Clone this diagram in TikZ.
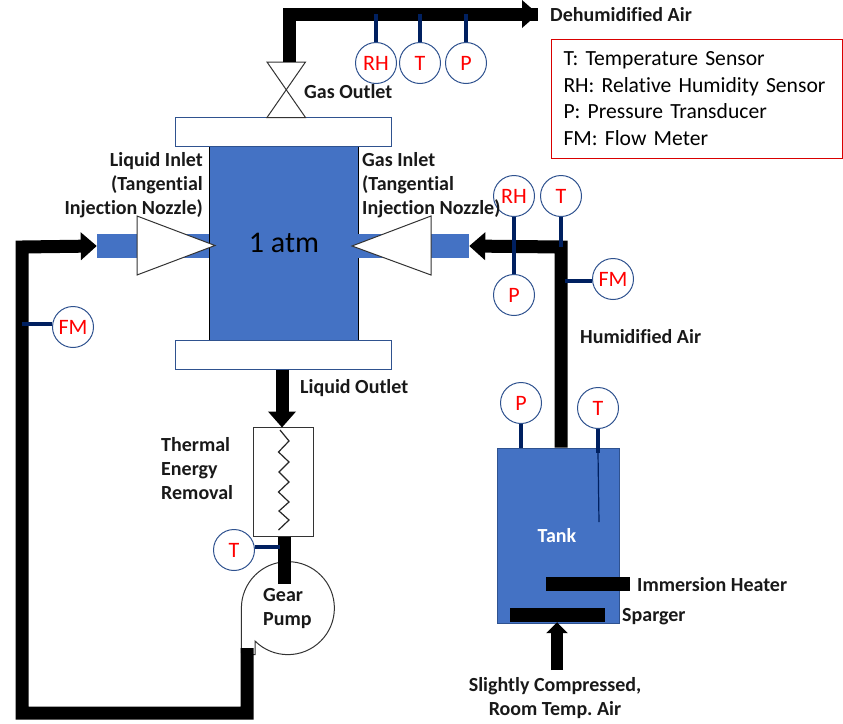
\documentclass[tikz,border=0pt]{standalone}
\usepackage{fontspec}
\setmainfont{Carlito}[Ligatures=NoCommon]
\usepackage{tikz}
\usetikzlibrary{arrows.meta,positioning}
\definecolor{vesselblue}{HTML}{4472C4}
\definecolor{edgeblue}{HTML}{2F528F}
\definecolor{stemblue}{HTML}{002060}
\frenchspacing
\tikzset{
  pipe/.style={line width=13pt},
  flow/.style={pipe,-{Triangle[length=16pt,width=27pt]}},
  stem/.style={line width=3.4pt,stemblue},
  sensor/.style={circle,draw=edgeblue,fill=white,line width=1pt,minimum size=41pt,inner sep=0pt,
    text=red,font=\fontsize{22}{22}\selectfont},
  vessel/.style={rectangle,fill=vesselblue,inner sep=0pt},
  flange/.style={rectangle,draw=edgeblue,fill=white,line width=1pt,minimum width=216pt,minimum height=29pt,inner sep=0pt},
  solidbar/.style={rectangle,fill=black,inner sep=0pt},
  outline/.style={draw=black!80,fill=white,line width=1pt},
  lbl/.style={font=\fontsize{20}{24}\selectfont\bfseries,inner sep=0pt,text=black!90}
}
\begin{document}
\begin{tikzpicture}[x=1pt,y=-1pt,on grid]
  \useasboundingbox (0,0) rectangle (843,723);

  % vessel and flanges
  \node[vessel,draw=black,line width=0.8pt,minimum width=149pt,minimum height=194pt] (column) at (283.5,243) {};
  \node[flange,above=111.5pt of column] (topflange) {};
  \node[flange,below=111.5pt of column] (botflange) {};
  \node[vessel,minimum width=112pt,minimum height=24pt] (leftstub) at (153,246) {};
  \node[vessel,minimum width=111pt,minimum height=24pt] (rightstub) at (413.5,246) {};
  \node[font=\fontsize{30}{30}\selectfont] (pressure) at (284,243) {1 atm};

  % nozzles and valve
  \draw[outline] (137,216) -- (137,275) -- (215,245.5) -- cycle;
  \draw[outline] (431,216) -- (431,275) -- (352,246) -- cycle;
  \draw[outline] (267,62) -- (305.5,62) -- (267,117.5) -- (305.5,117.5) -- cycle;

  % tank
  \node[vessel,draw=edgeblue,line width=0.8pt,minimum width=122pt,minimum height=175pt] (tank) at (558,535.5) {};
  \node[solidbar,minimum width=84pt,minimum height=14pt] (heater) at (588,584) {};
  \node[solidbar,minimum width=95pt,minimum height=14pt] (sparger) at (557.5,615) {};
  \node[lbl,text=white] (tanklabel) at (557,535.5) {Tank};

  % heat removal and pump
  \node[rectangle,outline,minimum width=60pt,minimum height=109pt,inner sep=0pt] (cooler) at (283,481.5) {};
  \draw[line width=1.2pt,black!85] (280,430) -- (289,441) -- (278.5,452) -- (289,462) -- (279,472) -- (289,482)
    -- (278.5,492) -- (289,502) -- (279,511) -- (289,520) -- (278.5,530);
  \draw[outline] (255,641) arc[start angle=135,end angle=-180,radius=46.5] -- (241.5,654.5) -- (255,654.5) -- cycle;

  % pipe ends
  \coordinate (outTop) at (289,62);
  \coordinate (outCorner) at (289,14);
  \coordinate (outEnd) at (538,14);
  \coordinate (pumpOut) at (247,648);
  \coordinate (bottomRight) at (247,713);
  \coordinate (bottomLeft) at (22,713);
  \coordinate (topLeft) at (22,247);
  \coordinate (inCorner) at (561,247);
  \coordinate (airIn) at (557,670);
  \coordinate (pumpIn) at (284.5,584);

  % flow lines
  \draw[pipe] (outTop) -- (outCorner) -- (outEnd);
  \draw[flow] (outCorner) -- (outEnd);
  \draw[flow] (pumpOut) -- (bottomRight) -- (bottomLeft) -- (topLeft) -- (leftstub.west);
  \draw[flow] (tank.north -| inCorner) -- (inCorner) -- (rightstub.east);
  \draw[flow] (botflange.south -| cooler.north) ++(-1,0) -- ++(0,58);
  \draw[pipe] (cooler.south -| pumpIn) -- (pumpIn);
  \draw[flow,line width=12pt,-{Triangle[length=11pt,width=21pt]}] (airIn) -- (sparger.south -| airIn);

  % sensors
  \node[sensor] (rhTop) at (376,63) {RH};
  \node[sensor,right=44pt of rhTop] (tTop) {T};
  \node[sensor,right=46pt of tTop] (pTop) {P};
  \node[sensor] (rhIn) at (514,196) {RH};
  \node[sensor,right=47pt of rhIn] (tIn) {T};
  \node[sensor,below=99pt of rhIn] (pIn) {P};
  \node[sensor] (fmAir) at (613,279) {FM};
  \node[sensor] (pTank) at (521,403) {P};
  \node[sensor] (tTank) at (598,408) {T};
  \node[sensor] (fmLiq) at (73,327) {FM};
  \node[sensor] (tCool) at (234,550) {T};

  \coordinate (probeEnd) at (599,522);
  \coordinate (probeTop) at (598,453);
  \coordinate (fmAirTap) at (565,281);
  \coordinate (fmLiqTap) at (22,324);
  \coordinate (tCoolTap) at (280,547);

  % sensor stems
  \foreach \s in {rhTop,tTop,pTop}
    \draw[stem] (\s.north) -- (\s.north |- outEnd);
  \draw[stem] (rhIn.south) -- (rhIn.south |- inCorner);
  \draw[stem] (tIn.south) -- (tIn.south |- inCorner);
  \draw[stem] (pIn.north) -- (pIn.north |- inCorner);
  \draw[stem] (fmAirTap -| fmAir.west) -- (fmAirTap);
  \draw[stem] (pTank.south) -- (pTank.south |- tank.north);
  \draw[stem] (tTank.south) -- (probeTop);
  \draw[line width=1.2pt,stemblue] (probeTop) -- (probeEnd);
  \draw[stem] (fmLiqTap -| fmLiq.west) -- (fmLiqTap);
  \draw[stem] (tCoolTap -| tCool.east) -- (tCoolTap);

  % labels
  \node[lbl,anchor=west] (dehum) at (550,15) {Dehumidified Air};
  \node[lbl,anchor=west] (gasout) at (304,91.5) {Gas Outlet};
  \node[lbl,anchor=east,align=right] (liqin) at (203,185.5) {Liquid Inlet\\(Tangential\\Injection Nozzle)};
  \node[lbl,anchor=west,align=left] (gasin) at (362,185.5) {Gas Inlet\\(Tangential\\Injection Nozzle)};
  \node[lbl,anchor=west] (liqout) at (300,388) {Liquid Outlet};
  \node[lbl,anchor=west] (humid) at (580,336.5) {Humidified Air};
  \node[lbl,anchor=west,align=left] (thermal) at (161,469) {Thermal\\Energy\\Removal};
  \node[lbl,anchor=west,align=left] (gear) at (263,609) {Gear\\Pump};
  \node[lbl,anchor=west] (immersion) at (637,584.5) {Immersion Heater};
  \node[lbl,anchor=west] (spargerlabel) at (622,617) {Sparger};
  \node[lbl,align=center] (airlabel) at (555,698.5) {Slightly Compressed,\\Room Temp. Air};

  % legend
  \node[rectangle,draw=red!85!black,line width=1pt,minimum width=291pt,minimum height=119pt,inner sep=0pt,
    text width=267pt,align=left,font=\fontsize{21.6}{26.7}\selectfont] (legend) at (697,98.5)
    {T: Temperature Sensor\\RH: Relative Humidity Sensor\\P: Pressure Transducer\\FM: Flow Meter};
\end{tikzpicture}
\end{document}
